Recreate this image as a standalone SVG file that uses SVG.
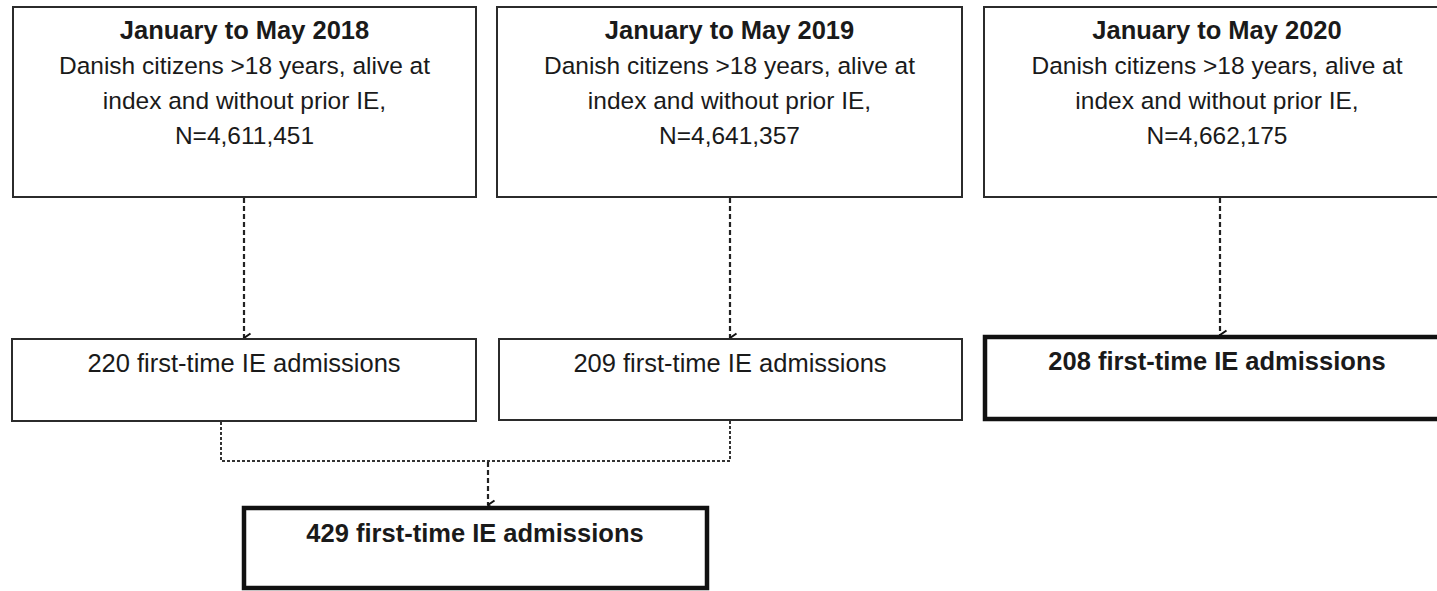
<svg xmlns="http://www.w3.org/2000/svg" width="1437" height="591" viewBox="0 0 1437 591">
<style>
.box{fill:#fff;stroke:#2b2b2b;stroke-width:2}
.thick{fill:#fff;stroke:#111;stroke-width:4.5}
text{font-family:"Liberation Sans",Arial,sans-serif;font-size:24.5px;fill:#1a1a1a;text-anchor:middle}
.b{font-weight:bold;font-size:25.5px}
.big{font-size:25.5px}
.dash{fill:none;stroke:#222;stroke-width:2.2;stroke-dasharray:5 3}
.dot{fill:none;stroke:#333;stroke-width:2;stroke-dasharray:3 2}
</style>
<defs>
<marker id="arr" viewBox="0 0 12 9" refX="6" refY="8" markerWidth="12" markerHeight="9" markerUnits="userSpaceOnUse" orient="auto-start-reverse">
<path d="M1.5,1.5 L6,8 L10.5,1.5" fill="none" stroke="#111" stroke-width="2"/>
</marker>
</defs>
<rect width="1437" height="591" fill="#fff"/>
<g id="connectors">
<line class="dash" x1="244" y1="198" x2="244" y2="338" marker-end="url(#arr)"/>
<line class="dash" x1="730" y1="198" x2="730" y2="338" marker-end="url(#arr)"/>
<line class="dash" x1="1220" y1="198" x2="1220" y2="335" marker-end="url(#arr)"/>
<path class="dot" d="M221,422 V461 H730 V421"/>
<line class="dash" x1="488" y1="462" x2="488" y2="505" marker-end="url(#arr)"/>
</g>
<g id="n2018">
<rect class="box" x="13" y="7" width="463" height="190"/>
<text x="244.5" y="39" class="b">January to May 2018</text>
<text x="244.5" y="74">Danish citizens &gt;18 years, alive at</text>
<text x="244.5" y="109">index and without prior IE,</text>
<text x="244.5" y="144">N=4,611,451</text>
</g>
<g id="n2019">
<rect class="box" x="497" y="7" width="465" height="190"/>
<text x="729.5" y="39" class="b">January to May 2019</text>
<text x="729.5" y="74">Danish citizens &gt;18 years, alive at</text>
<text x="729.5" y="109">index and without prior IE,</text>
<text x="729.5" y="144">N=4,641,357</text>
</g>
<g id="n2020">
<rect class="box" x="984" y="7" width="466" height="190"/>
<text x="1217" y="39" class="b">January to May 2020</text>
<text x="1217" y="74">Danish citizens &gt;18 years, alive at</text>
<text x="1217" y="109">index and without prior IE,</text>
<text x="1217" y="144">N=4,662,175</text>
</g>
<g id="a220">
<rect class="box" x="12" y="339" width="464" height="82"/>
<text x="244" y="372" class="big">220 first-time IE admissions</text>
</g>
<g id="a209">
<rect class="box" x="499" y="339" width="463" height="81"/>
<text x="730" y="372" class="big">209 first-time IE admissions</text>
</g>
<g id="a208">
<rect class="thick" x="985" y="337" width="470" height="82"/>
<text x="1217" y="370" class="b">208 first-time IE admissions</text>
</g>
<g id="a429">
<rect class="thick" x="244" y="508" width="463" height="80"/>
<text x="475" y="542" class="b">429 first-time IE admissions</text>
</g>
</svg>
